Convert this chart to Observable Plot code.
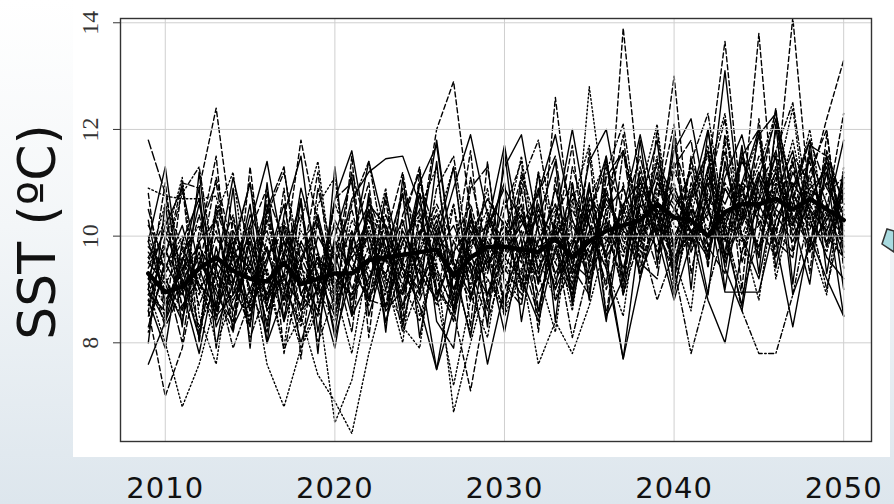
<!DOCTYPE html>
<html><head><meta charset="utf-8">
<script src="https://cdn.jsdelivr.net/npm/d3@7"></script>
<script src="https://cdn.jsdelivr.net/npm/@observablehq/plot@0.6"></script>
<style>
html,body{margin:0;padding:0;}
body{width:894px;height:504px;overflow:hidden;position:relative;background:linear-gradient(180deg,#ffffff 0%,#f3f6f8 45%,#dde6ed 100%);font-family:"DejaVu Sans",sans-serif;}
#panel{position:absolute;left:73px;top:0;width:817px;height:457px;background:#fff;}
#chart{position:absolute;left:73px;top:0;}
#deco{position:absolute;left:0;top:0;pointer-events:none;}
#chart svg [aria-label="x-axis tick label"] text{font-family:"DejaVu Sans",sans-serif;letter-spacing:1px;}
</style></head><body>
<div id="panel"></div>
<div id="chart"></div>
<svg id="deco" width="894" height="504">
  <text transform="translate(55,232) rotate(-90)" text-anchor="middle" font-family="DejaVu Sans" font-size="52" fill="#111">SST (ºC)</text>
  <polygon points="882,244 887,229 894,231 894,252" fill="#a9dbe0" stroke="#333" stroke-width="1.5"/>
</svg>
<script>
const years = [2009,2010,2011,2012,2013,2014,2015,2016,2017,2018,2019,2020,2021,2022,2023,2024,2025,2026,2027,2028,2029,2030,2031,2032,2033,2034,2035,2036,2037,2038,2039,2040,2041,2042,2043,2044,2045,2046,2047,2048,2049,2050];
const xTicks = [2010, 2020, 2030, 2040, 2050];
const yTicks = [8, 10, 12, 14];

const ensembleMean = [9.3,8.95,9.05,9.4,9.6,9.35,9.2,9.15,9.5,9.1, 9.2,9.3,9.3,9.55,9.6,9.65,9.7,9.75,9.25,9.6, 9.8,9.8,9.75,9.7,9.95,9.6,9.9,10.1,10.2,10.3, 10.6,10.35,10.3,10.0,10.45,10.6,10.6,10.7,10.5,10.7, 10.5,10.3];

const runA = [7.6,8.4,9.2,8.1,9.8,8.6,9.9,8.3,10.2,8.9, 9.6,8.2,10.1,9.0,10.8,9.4,8.7,7.5,9.3,10.4, 8.9,9.9,10.6,9.1,10.2,8.8,10.9,9.6,7.7,10.1, 11.2,9.8,10.5,8.9,11.4,10.0,9.2,10.8,11.6,9.9, 10.6,8.5];
const runB = [11.8,10.8,9.1,9.9,8.5,10.3,9.0,8.2,9.7,10.6, 8.8,9.5,11.2,10.0,8.6,9.9,10.5,9.2,8.4,10.0, 9.3,10.7,9.6,8.5,10.4,11.0,9.4,10.2,9.0,11.3, 10.1,9.4,11.0,10.3,9.7,11.5,10.2,9.6,10.9,11.4, 10.0,9.6];
const runC = [10.9,10.75,10.7,10.7,10.75,9.4,8.6,9.8,8.9,7.9, 8.6,9.4,8.8,10.2,9.1,9.9,8.5,9.6,10.6,9.0, 10.3,9.5,8.9,9.7,10.5,9.2,12.8,10.4,9.6,10.9, 11.3,10.2,9.9,11.0,10.5,9.7,11.2,10.6,11.8,10.3, 11.0,10.1];
const runD = [10.2,9.6,11.0,10.9,12.4,10.0,9.3,10.5,8.7,9.9, 10.3,8.9,9.7,10.1,9.2,10.8,9.5,8.8,9.9,10.6, 9.4,10.0,11.1,9.3,10.2,9.8,10.9,9.5,13.9,10.8, 10.0,11.4,9.9,10.7,10.2,11.0,9.6,11.3,10.5,10.1, 11.2,10.4];
const runE = [9.0,8.0,6.8,7.6,8.8,9.6,8.4,10.0,9.1,8.3, 9.7,8.8,9.3,10.4,9.6,8.9,10.1,9.0,8.5,9.8, 10.5,9.2,8.8,10.0,9.5,10.7,9.1,10.3,9.8,10.9, 10.4,9.5,10.8,11.5,10.2,9.9,10.7,11.3,10.1,10.9, 9.8,10.6];
const runF = [8.6,7.0,7.9,9.5,9.0,8.2,10.1,9.3,8.5,9.8, 8.9,10.3,9.6,8.7,10.0,11.2,9.4,10.2,9.0,9.7, 8.6,9.9,10.5,9.1,12.6,10.0,9.2,10.8,9.9,10.4, 10.6,13.0,9.8,11.1,10.3,10.9,9.7,10.5,11.4,10.2, 9.9,10.8];
const runG = [9.5,9.1,8.4,9.9,10.3,8.9,9.5,10.6,9.2,8.7, 10.0,9.4,10.7,11.2,11.45,11.5,10.6,9.8,10.9,11.9, 10.4,9.7,10.2,10.8,11.9,10.3,9.6,10.7,10.1,9.8, 11.0,10.5,10.1,10.4,13.1,10.2,11.1,10.4,9.9,10.7, 11.3,9.7];
const runH = [9.2,8.7,9.5,8.3,9.1,9.8,8.6,9.4,7.9,8.5, 7.4,6.9,6.3,7.8,9.0,8.4,9.6,8.7,9.3,8.2, 9.5,10.1,9.0,9.6,8.8,10.0,9.3,9.9,10.4,9.6, 10.2,11.0,9.7,10.5,9.9,10.8,10.3,9.8,10.6,11.1, 10.2,9.9];
const runI = [9.6,9.0,8.5,9.3,8.0,8.8,9.4,7.6,6.8,7.9, 8.8,6.5,7.3,8.9,9.7,9.1,8.4,9.5,6.7,8.0, 9.2,8.7,9.8,9.3,10.3,9.5,10.0,9.4,10.6,9.9, 10.5,9.7,10.9,10.1,11.3,10.4,9.8,11.0,10.6,10.2, 10.8,11.1];
const runJ = [8.9,9.7,9.2,10.4,9.0,9.6,10.2,8.8,9.9,9.3, 8.6,9.8,10.5,9.2,9.8,8.9,10.3,9.4,8.6,7.1, 8.9,10.0,9.5,10.6,9.2,9.7,10.4,9.0,10.1,11.2, 10.3,9.5,10.0,11.0,9.6,10.4,13.8,10.1,9.7,10.8, 10.3,10.9];
const runK = [9.4,10.1,9.5,8.9,10.0,9.2,8.7,10.3,9.6,11.8, 10.2,9.0,9.7,10.3,9.5,10.9,10.0,12.0,12.9,10.4, 9.6,10.2,9.1,9.9,10.6,9.3,10.1,10.9,9.7,10.5, 11.1,10.0,10.6,9.8,11.0,10.4,11.5,10.9,14.1,10.6, 10.0,10.7];
const runL = [9.1,8.5,9.8,9.0,8.4,10.0,9.3,8.9,9.6,10.4, 9.2,9.9,8.8,9.5,10.2,9.0,9.7,10.5,9.4,8.8, 9.9,9.3,10.4,9.8,9.1,10.2,9.6,10.8,10.0,9.4, 10.5,9.9,10.7,11.2,13.65,10.5,9.8,10.9,10.2,11.0, 12.2,13.3];
const runM = [9.7,9.2,8.6,9.5,10.1,9.0,8.5,9.6,10.3,9.1, 9.5,8.7,9.4,10.0,9.2,8.9,9.8,10.4,9.5,9.1, 10.0,9.4,8.9,9.9,10.6,9.3,9.8,10.3,8.9,10.0, 10.7,9.4,7.8,9.0,10.2,8.6,7.8,7.8,8.9,10.5, 11.0,10.2];
const runN = [8.3,9.5,8.9,9.7,8.6,9.4,10.0,8.8,9.3,8.0, 9.1,9.7,8.5,9.2,10.0,8.7,9.4,7.5,8.6,9.5, 8.9,9.6,9.2,8.4,9.8,9.0,10.1,9.4,7.7,9.2, 10.4,9.6,10.1,8.8,8.0,9.7,10.6,9.9,8.3,10.0, 9.2,8.5];
const runO = [9.0,8.4,9.6,9.1,8.7,10.1,9.5,8.9,9.7,9.2, 8.6,9.9,9.4,8.8,9.6,10.3,9.1,9.7,10.2,9.4, 7.6,9.0,9.7,10.4,9.3,9.9,10.5,9.6,10.2,10.8, 9.7,10.4,9.9,10.6,8.95,8.95,8.95,10.3,11.0,10.5, 9.6,9.2];
const runP = [8.8,9.4,10.0,9.1,8.5,9.7,9.9,8.6,9.2,10.1, 9.6,9.0,10.3,9.7,8.9,9.4,10.1,9.3,8.7,9.6, 9.2,8.6,9.4,7.6,8.4,7.8,8.7,9.9,10.5,9.7, 10.9,10.3,11.3,10.6,10.0,11.0,10.7,11.5,10.3,10.9, 11.2,10.0];
const runQ = [9.9,8.8,9.3,10.6,9.4,8.3,9.0,9.8,8.4,9.5, 10.4,9.1,9.6,10.0,9.0,10.1,9.5,10.3,9.0,10.0, 10.7,10.2,9.6,10.5,9.9,10.8,10.2,9.7,10.6,11.0, 10.4,10.9,10.2,11.1,10.6,11.4,10.8,10.1,11.2,10.5, 10.1,11.0];
const runR = [8.5,9.3,9.9,8.7,9.6,10.4,8.9,9.6,10.1,8.6, 9.4,10.2,9.0,9.8,8.7,9.6,10.8,9.9,9.3,10.3, 9.7,8.8,10.0,10.6,9.5,8.9,10.4,11.3,10.5,9.9, 11.0,10.6,9.7,10.8,10.1,11.6,10.4,10.0,11.5,11.0, 10.4,10.0];
const runS = [9.3,8.3,9.0,9.6,8.9,8.4,9.7,10.1,9.0,9.6, 8.9,9.5,10.1,8.8,10.4,9.5,8.9,10.0,9.6,9.2, 10.3,9.6,10.1,8.9,9.7,10.3,9.5,10.9,11.6,10.2, 9.8,10.5,11.2,9.6,10.9,10.3,11.1,9.9,10.7,11.8, 10.9,10.4];
const runT = [9.1,9.8,8.7,9.2,10.5,9.6,8.1,9.0,9.9,9.4, 9.0,10.6,9.8,9.1,10.1,9.3,8.8,9.7,8.9,10.1, 9.4,10.3,9.7,9.2,10.0,9.1,10.6,9.9,10.4,11.5, 10.1,9.3,10.5,10.0,11.6,9.9,10.2,11.1,10.4,9.8, 10.3,10.8];
const runU = [9.8,9.4,10.2,9.0,9.5,9.1,10.4,9.7,8.8,9.9, 9.3,8.5,9.9,10.6,10.2,9.4,9.0,10.1,8.6,9.9, 10.2,10.9,10.3,9.6,10.9,9.5,9.2,10.5,10.9,10.0, 11.4,10.7,10.3,9.7,11.1,11.9,10.5,11.2,10.0,10.6, 11.4,10.1];
const runV = [10.0,9.1,9.7,10.2,9.3,8.8,9.5,8.4,10.2,9.8, 9.0,8.4,10.0,9.4,8.7,9.9,10.4,8.9,7.2,8.8, 10.4,9.9,9.3,10.2,9.7,9.0,10.0,10.6,10.1,9.6, 10.8,11.2,10.6,11.7,9.9,10.6,11.3,12.3,10.8,10.3, 9.7,10.9];
const runW = [8.9,8.6,9.4,9.8,9.2,9.9,8.6,9.5,10.6,8.9, 9.6,9.2,8.9,9.6,9.3,10.0,9.3,8.8,9.7,10.2, 9.5,10.0,10.4,9.4,10.1,9.6,10.7,10.3,9.4,10.6, 10.0,10.8,10.1,9.6,10.9,10.3,11.2,10.5,10.2,11.5, 10.6,9.6];
const runX = [9.6,10.3,9.0,9.4,11.1,9.7,9.4,8.7,10.0,9.6, 10.2,9.3,8.9,10.5,9.8,9.2,10.0,10.6,9.9,9.3, 10.1,9.7,10.3,9.8,10.0,10.5,9.7,10.0,9.2,10.8, 10.5,9.8,11.4,10.7,10.4,10.0,10.9,11.6,10.2,10.9, 10.5,12.3];
const runY1 = [8.0,10.6,8.3,11.2,8.6,10.9,7.9,11.0,8.4,10.7, 7.8,11.3,8.5,10.8,8.2,11.1,8.9,11.4,8.6,10.5, 8.3,11.6,9.0,11.2,8.4,11.0,8.8,11.5,9.2,11.8, 9.5,11.9,9.0,12.0,9.6,11.7,9.3,12.1,9.1,11.6, 9.8,11.2];
const runY2 = [10.8,8.4,11.0,8.0,10.5,8.2,11.3,8.7,10.9,7.7, 10.4,8.5,11.5,8.1,10.7,8.4,11.2,8.8,10.6,8.3, 11.4,8.6,10.9,8.2,11.1,8.9,11.6,8.5,11.0,9.2, 12.0,9.1,11.5,9.4,11.8,9.0,12.2,9.6,11.4,9.3, 11.9,9.8];
const runY3 = [8.7,9.9,11.1,8.5,7.6,9.7,11.0,9.2,7.9,10.3, 11.4,9.0,7.8,9.6,10.9,8.3,7.9,10.2,11.3,8.9, 8.1,10.0,11.5,9.3,8.2,10.6,11.7,9.4,8.5,10.8, 12.1,9.6,8.6,11.2,12.3,10.0,8.8,11.0,12.4,9.9, 8.9,11.3];
const runY4 = [9.9,11.3,9.0,7.8,9.4,11.1,9.7,8.0,10.4,11.5, 9.1,7.9,9.8,11.4,10.1,8.3,9.9,11.8,9.5,8.1, 10.2,11.7,9.9,8.6,10.3,12.0,10.2,8.4,10.5,11.9, 10.4,8.9,10.7,12.0,10.0,8.7,11.1,12.2,10.3,9.1, 11.5,10.6];
const runY5 = [8.2,9.6,10.8,11.3,9.2,7.9,8.8,10.4,11.2,9.5, 8.0,8.9,10.6,11.4,9.6,8.2,9.1,10.9,11.5,9.4, 8.4,9.5,11.0,11.8,9.9,8.1,9.4,11.2,12.1,10.0, 8.8,9.7,11.4,12.3,10.2,8.9,10.0,11.6,12.5,10.4, 9.0,10.5];
const runY6 = [10.3,8.7,9.5,10.9,7.9,9.8,11.0,8.6,9.3,10.7, 8.2,10.0,11.1,8.5,9.7,10.8,8.1,9.9,11.3,8.8, 10.1,11.0,8.4,10.3,11.4,8.7,10.4,11.5,8.9,10.6, 11.8,9.2,10.8,11.6,9.0,11.0,12.0,9.4,10.9,11.8, 9.3,11.1];
const runY7 = [9.0,11.0,8.6,9.9,11.5,8.4,10.1,10.9,7.8,9.4, 11.2,8.7,9.9,11.0,8.3,10.2,11.3,8.9,9.6,11.6, 8.7,10.5,11.4,8.6,10.0,11.7,9.0,10.3,11.9,9.2, 10.6,12.1,9.3,10.9,12.2,9.5,10.7,12.4,9.7,11.2, 12.0,9.4];
const runY8 = [8.8,7.9,9.9,10.7,8.3,9.1,10.6,8.0,8.9,10.9, 9.7,8.1,9.3,10.5,8.6,9.0,10.8,8.4,7.9,10.3, 9.6,8.2,9.8,10.9,8.8,9.4,11.0,8.5,9.2,11.1, 10.0,8.8,9.9,11.3,9.4,8.6,10.5,11.5,8.9,9.8, 11.2,9.0];
const runY9 = [9.5,10.6,9.8,8.2,10.4,11.2,8.7,10.3,9.0,8.4, 10.6,11.1,8.6,10.4,9.2,8.0,10.5,11.3,8.8,9.7, 10.9,8.5,9.3,11.2,10.0,8.6,10.7,11.4,9.1,10.2, 11.5,9.0,10.4,11.6,9.5,10.9,11.9,9.2,10.6,12.0, 10.1,9.6];
const runY10 = [10.5,9.3,8.0,10.1,11.0,9.1,8.3,10.5,11.3,8.9, 8.5,10.7,11.0,8.8,8.7,10.4,11.2,9.0,8.6,10.9, 11.3,9.1,8.7,10.8,11.5,9.4,8.9,11.1,11.6,9.5, 9.2,11.3,11.8,9.8,9.3,11.5,12.0,9.9,9.6,11.7, 11.5,10.0];
const runY11 = [9.2,10.2,10.9,9.4,8.5,8.9,10.2,11.4,9.6,8.6, 9.0,10.7,11.6,9.8,8.4,9.5,11.0,11.7,9.5,8.9, 9.6,11.3,11.9,10.1,9.0,9.8,11.4,12.0,10.3,9.3, 10.1,11.6,12.2,10.5,9.5,10.3,11.9,12.3,10.7,9.7, 10.4,11.8];
const runY12 = [8.6,10.0,9.4,8.1,10.6,9.7,8.3,10.8,9.9,8.4, 10.9,9.5,8.2,10.7,9.8,8.6,11.0,10.0,8.8,11.1, 9.7,8.5,11.2,10.1,9.0,11.3,10.2,9.1,11.6,10.4, 9.4,11.7,10.6,9.5,11.9,10.7,9.6,12.0,10.9,9.8, 11.6,10.6];

const runs = [runA,runB,runC,runD,runE,runF,runG,runH,runI,runJ,runK,runL,runM,runN,runO,runP,runQ,runR,runS,runT,runU,runV,runW,runX,
              runY1,runY2,runY3,runY4,runY5,runY6,runY7,runY8,runY9,runY10,runY11,runY12];
const runLineTypes = ["solid","longdash","dotted","dashed","dotted","dashed","solid","dotted","dotted","dashed","dashed","dashed","dotdash","solid","solid","dotted","solid","dashed","longdash","twodash","solid","dotted","solid","dashed",
                      "solid","dashed","dotted","solid","dotdash","solid","dashed","solid","dotted","longdash","solid","twodash"];

const dashes = {solid: null, dashed: "5,3", dotted: "1.5,2.5", dotdash: "1.5,2.5,5,2.5", longdash: "9,3", twodash: "3,2.5,8,2.5"};

const runMarks = runs.map((vals, i) => Plot.line(
  years.map((yr, j) => ({year: yr, sst: vals[j]})),
  {x: "year", y: "sst", stroke: "#000", strokeWidth: 1.4, strokeDasharray: dashes[runLineTypes[i]], clip: true}
));
const meanRows = years.map((yr, j) => ({year: yr, sst: ensembleMean[j]}));

const chart = Plot.plot({
  width: 817, height: 504,
  marginLeft: 47, marginRight: 19, marginTop: 18, marginBottom: 63,
  x: {domain: [2007.36, 2051.64]},
  y: {domain: [6.15, 14.08]},
  style: {background: "transparent", overflow: "visible"},
  marks: [
    ...runMarks,
    Plot.gridX(xTicks, {stroke: "#cfcfcf", strokeOpacity: 1, strokeWidth: 1}),
    Plot.gridY(yTicks, {stroke: "#cfcfcf", strokeOpacity: 1, strokeWidth: 1}),
    Plot.line(meanRows, {x: "year", y: "sst", stroke: "#000", strokeWidth: 4.5, strokeLinejoin: "round"}),
    Plot.frame({stroke: "#333", strokeWidth: 1.4}),
    Plot.axisY(yTicks, {tickSize: 7, tickFormat: () => "", label: null, stroke: "#333"}),
    Plot.text(yTicks, {x: 2007.36, y: d => d, text: d => String(d), rotate: -90, dx: -30, fontSize: 24, fontFamily: "Liberation Serif", fill: "#333", textAnchor: "middle"}),
    Plot.axisX(xTicks, {tickSize: 0, tickPadding: 36, tickFormat: d => String(d), fontSize: 29, fontFamily: "DejaVu Sans", fill: "#111", label: null})
  ]
});
document.getElementById("chart").appendChild(chart);
</script>
</body></html>
